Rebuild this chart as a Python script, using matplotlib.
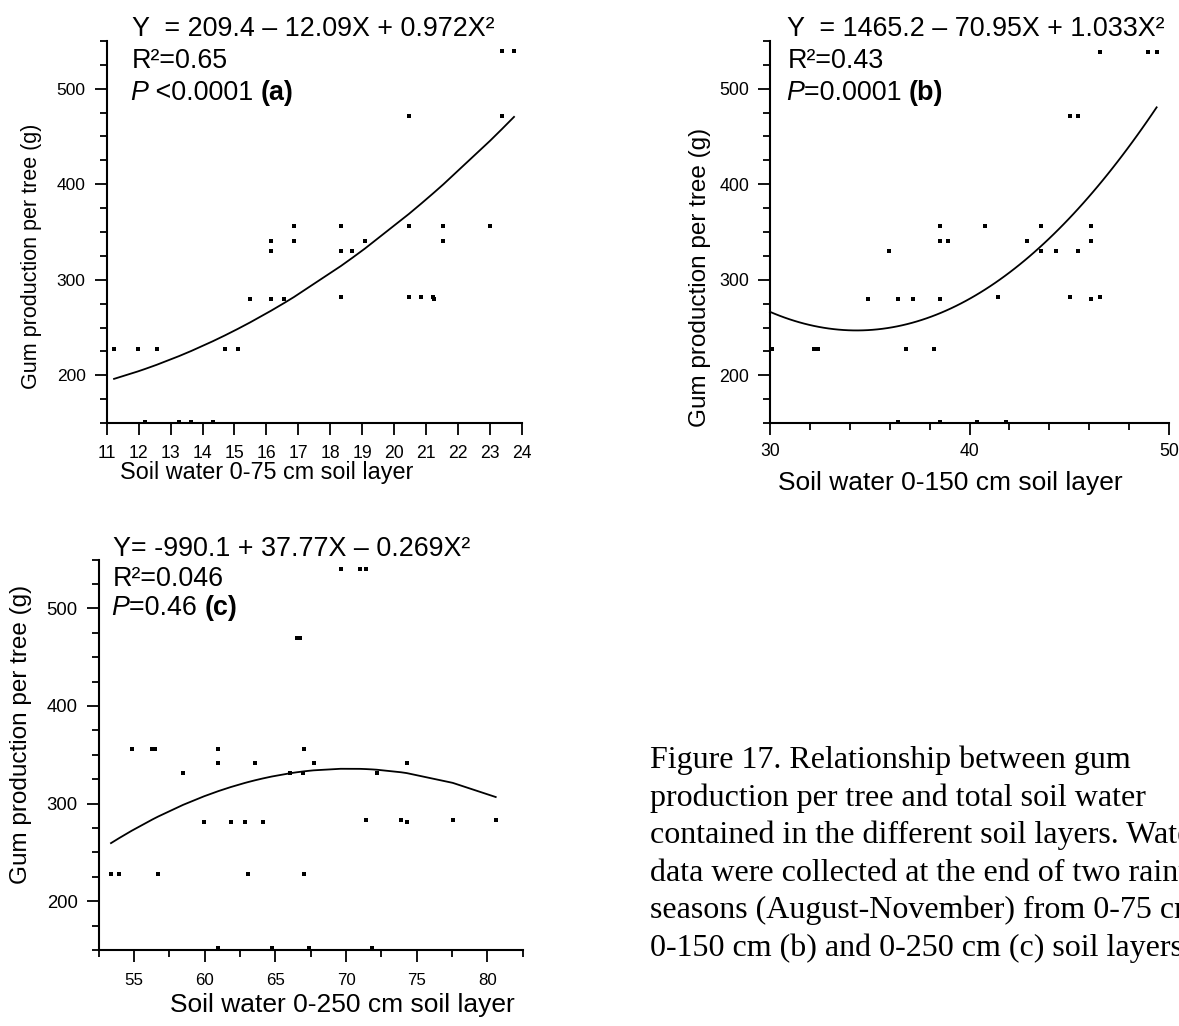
import matplotlib
matplotlib.use("Agg")
import matplotlib.pyplot as plt
import numpy as np
from matplotlib.ticker import MultipleLocator, FixedLocator

# ---- data -------------------------------------------------------------
# (a) soil water 0-75 cm vs gum production per tree (g)
water_75 = [11.23, 11.97, 12.56, 12.2, 13.26, 13.65, 14.32, 14.70, 15.10, 15.49,
            16.15, 16.56, 16.15, 16.15, 16.86, 16.86, 18.33, 18.33, 18.69, 19.09,
            18.33, 20.46, 20.46, 20.46, 20.85, 21.2, 21.26, 21.54, 21.54, 23.0,
            23.37, 23.37, 23.75]
gum_75 = [227, 227, 227, 151, 151, 151, 151, 227, 227, 280,
          280, 280, 341, 330, 356, 341, 356, 330, 330, 341,
          282, 471, 356, 282, 282, 282, 280, 356, 341, 356,
          471, 540, 540]

# (b) soil water 0-150 cm
water_150 = [30.08, 32.22, 32.42, 34.9, 35.96, 36.4, 36.4, 36.82, 37.15, 38.22,
             38.52, 38.52, 38.92, 38.52, 38.52, 40.36, 40.78, 41.43, 41.83, 42.88,
             43.57, 43.57, 44.34, 45.04, 45.42, 45.04, 45.42, 46.09, 46.09, 46.09,
             46.52, 46.52, 48.96, 49.38]
gum_150 = [227, 227, 227, 280, 330, 280, 151, 227, 280, 227,
           356, 341, 341, 280, 151, 151, 356, 282, 151, 341,
           356, 330, 330, 471, 471, 282, 330, 356, 341, 280,
           282, 539, 539, 539]

# (c) soil water 0-250 cm
water_250 = [53.37, 53.96, 54.83, 56.3, 56.5, 56.72, 58.47, 59.95, 60.97, 60.97,
             60.97, 61.84, 62.83, 63.09, 63.58, 64.1, 64.74, 66.04, 66.5, 66.75,
             66.92, 67.05, 67.05, 67.36, 67.71, 69.62, 71.0, 71.4, 71.42, 71.86,
             72.17, 73.89, 74.29, 74.29, 77.55, 80.59]
gum_250 = [228, 228, 356, 356, 356, 228, 331, 281, 356, 342,
           152, 281, 281, 228, 342, 281, 152, 331, 470, 470,
           331, 356, 228, 152, 342, 540, 540, 540, 283, 152,
           331, 283, 342, 281, 283, 283]

# quadratic regression coefficients (b0, b1, b2) as printed on each panel
coef_75 = [209.4, -12.09, 0.972]
coef_150 = [1465.2, -70.95, 1.033]
coef_250 = [-990.1, 37.77, -0.269]

eq_75 = ["Y  = 209.4 \u2013 12.09X + 0.972X\u00b2", "R\u00b2=0.65", " <0.0001 ", "(a)"]
eq_150 = ["Y  = 1465.2 \u2013 70.95X + 1.033X\u00b2", "R\u00b2=0.43", "=0.0001 ", "(b)"]
eq_250 = ["Y= -990.1 + 37.77X \u2013 0.269X\u00b2", "R\u00b2=0.046", "=0.46 ", "(c)"]

xlabel_75 = "Soil water 0-75 cm soil layer"
xlabel_150 = "Soil water 0-150 cm soil layer"
xlabel_250 = "Soil water 0-250 cm soil layer"
ylabel = "Gum production per tree (g)"

caption = ["Figure 17. Relationship between gum",
           "production per tree and total soil water",
           "contained in the different soil layers. Water",
           "data were collected at the end of two rainy",
           "seasons (August-November) from 0-75 cm (a),",
           "0-150 cm (b) and 0-250 cm (c) soil layers."]

# ---- figure -----------------------------------------------------------
W, H = 1179, 1026
plt.rcParams["font.family"] = ["Liberation Sans", "DejaVu Sans"]
fig = plt.figure(figsize=(W / 100, H / 100), dpi=100)
fig.patch.set_facecolor("white")


def box(l, t, r, b):
    return [l / W, 1 - b / H, (r - l) / W, (b - t) / H]


def fx(px):
    return px / W


def fy(py):
    return 1 - py / H


renderer = fig.canvas.get_renderer()


def rich_line(x_px, y_px, pieces, size):
    """Draw consecutive text pieces with their own styles on one baseline."""
    x = x_px
    for s, style, weight in pieces:
        t = fig.text(fx(x), fy(y_px), s, fontsize=size, style=style,
                     weight=weight, ha="left", va="baseline")
        bb = t.get_window_extent(renderer=renderer)
        x += bb.width


def panel(rect, xs, ys, coef, xlim, xmajor, xminor, xsize, ysize, xpad,
          dense=False):
    ax = fig.add_axes(rect)
    ax.scatter(xs, ys, marker="s", s=6, color="black", linewidths=0,
               clip_on=False, zorder=3)
    if dense:
        xfit = np.linspace(xlim[0], max(xs), 80)
    else:
        xfit = np.unique(np.array(xs, dtype=float))
    yfit = coef[0] + coef[1] * xfit + coef[2] * xfit ** 2
    ax.plot(xfit, yfit, color="black", lw=1.3, clip_on=False)
    ax.set_xlim(*xlim)
    ax.set_ylim(150, 550)
    for side in ("top", "right"):
        ax.spines[side].set_visible(False)
    for side in ("left", "bottom"):
        ax.spines[side].set_linewidth(1.5)
    ax.xaxis.set_major_locator(FixedLocator(xmajor))
    if xminor:
        ax.xaxis.set_minor_locator(MultipleLocator(xminor))
    ax.yaxis.set_major_locator(FixedLocator([200, 300, 400, 500]))
    ax.yaxis.set_minor_locator(MultipleLocator(25))
    ax.tick_params(which="major", direction="out", length=8.6, width=1.3,
                   color="black")
    ax.tick_params(which="minor", direction="out", length=4.7, width=1.3)
    ax.tick_params(axis="x", which="major", pad=xpad, labelsize=xsize)
    ax.tick_params(axis="y", which="major", pad=6.5, labelsize=ysize)
    return ax


ax_a = panel(box(106.7, 41, 522, 423), water_75, gum_75, coef_75,
             (11, 24), list(range(11, 25)), None, 12.7, 12.5, 7.5)
ax_b = panel(box(770, 41, 1169, 423), water_150, gum_150, coef_150,
             (30, 50), [30, 40, 50], 2, 12.7, 12.8, 5.5, dense=True)
ax_c = panel(box(98.7, 559.5, 522.7, 950), water_250, gum_250, coef_250,
             (52.5, 82.5), [55, 60, 65, 70, 75, 80], 2.5, 12.2, 13.3, 8.0)

# axis titles
fig.text(fx(32), fy(256), ylabel, rotation=90, ha="center", va="center", fontsize=15.5)
fig.text(fx(700), fy(277), ylabel, rotation=90, ha="center", va="center", fontsize=17.5)
fig.text(fx(21), fy(734), ylabel, rotation=90, ha="center", va="center", fontsize=17.5)

fig.text(fx(267), fy(479), xlabel_75, ha="center", va="baseline", fontsize=16.8)
fig.text(fx(950), fy(490), xlabel_150, ha="center", va="baseline", fontsize=19)
fig.text(fx(342), fy(1012), xlabel_250, ha="center", va="baseline", fontsize=19)

# regression annotations
for (x0, ys_, eq, size) in [(131.7, (36, 68.3, 100), eq_75, 19.4),
                            (787.3, (36, 68.3, 100), eq_150, 19.4),
                            (112.7, (556, 585.7, 615), eq_250, 19.4)]:
    rich_line(x0, ys_[0], [(eq[0], "normal", "normal")], size)
    rich_line(x0, ys_[1], [(eq[1], "normal", "normal")], size)
    rich_line(x0 - 1.5, ys_[2], [("P", "italic", "normal"),
                                 (eq[2], "normal", "normal"),
                                 (eq[3], "normal", "bold")], size)

# figure caption
for i, line in enumerate(caption):
    fig.text(fx(650), fy(768 + i * 37.6), line, ha="left", va="baseline",
             fontsize=23, family=["Liberation Serif", "DejaVu Serif"])

fig.savefig("out.png", dpi=100, facecolor="white")
